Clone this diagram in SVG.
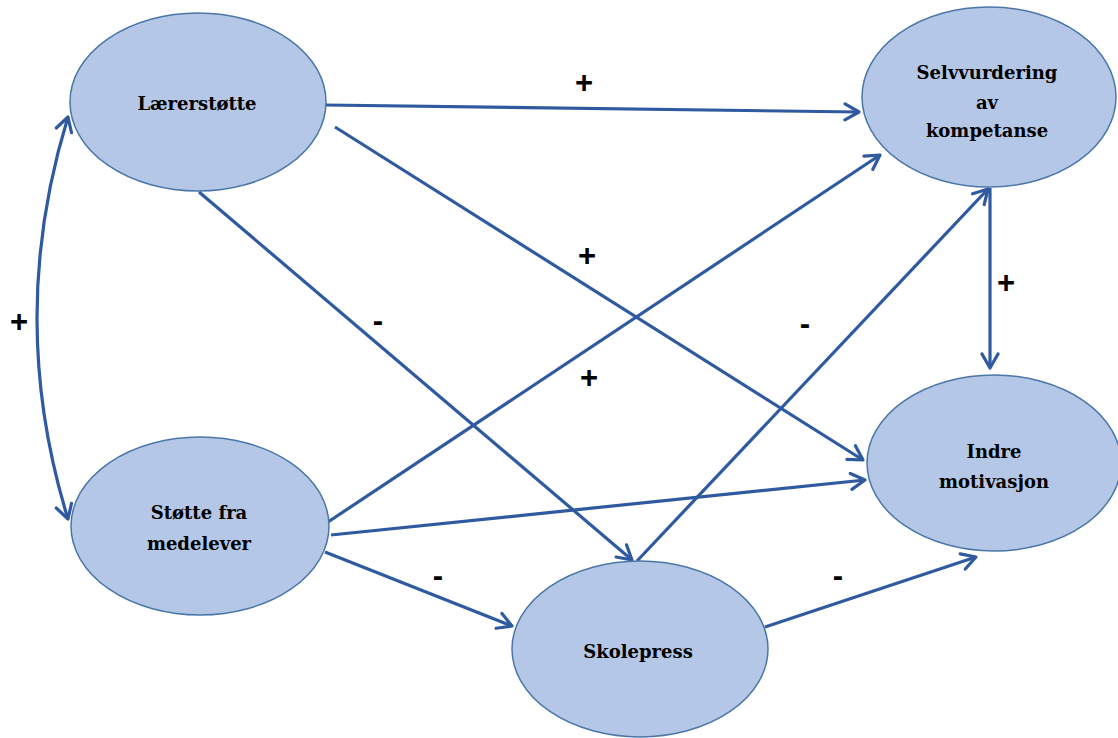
<svg xmlns="http://www.w3.org/2000/svg" width="1118" height="738" viewBox="0 0 1118 738">
<defs>
<marker id="ah" markerUnits="userSpaceOnUse" viewBox="-18 -10 20 20" refX="0" refY="0" markerWidth="20" markerHeight="20" orient="auto-start-reverse">
<path d="M-14,-8 L0,0 L-14,8" fill="none" stroke="#2F5AA0" stroke-width="3.2" stroke-linecap="round" stroke-linejoin="round"/>
</marker>
<style>
.node{fill:#B4C7E7;stroke:#4A76A8;stroke-width:1.5}
.lbl{font-family:"DejaVu Serif",serif;font-weight:bold;font-size:18px;fill:#000;text-anchor:middle}
.conn{fill:none;stroke:#2F5AA0;stroke-width:3.2;marker-end:url(#ah)}
.sign{font-family:"Liberation Sans",Arial,sans-serif;font-weight:bold;font-size:31px;fill:#000;text-anchor:middle}
</style>
</defs>
<rect width="1118" height="738" fill="#fff"/>
<g id="connectors">
<line class="conn" x1="325" y1="105" x2="859" y2="112"/>
<line class="conn" x1="335" y1="127" x2="863" y2="460"/>
<line class="conn" x1="199" y1="192" x2="632" y2="560"/>
<line class="conn" x1="328" y1="522" x2="880" y2="155"/>
<line class="conn" x1="331" y1="535" x2="865" y2="480"/>
<line class="conn" x1="325" y1="552" x2="512" y2="626"/>
<line class="conn" x1="637" y1="561" x2="988" y2="189"/>
<line class="conn" x1="765" y1="627" x2="976" y2="557"/>
<line class="conn" x1="990" y1="188" x2="990" y2="368"/>
<path class="conn" d="M68,117 Q6,318 68,519" style="marker-start:url(#ah)"/>
</g>
<g id="labels">
<text class="sign" x="584" y="93">+</text>
<text class="sign" x="587" y="266">+</text>
<text class="sign" x="378" y="331">-</text>
<text class="sign" x="589" y="388">+</text>
<text class="sign" x="805" y="334">-</text>
<text class="sign" x="1006" y="293">+</text>
<text class="sign" x="19" y="332">+</text>
<text class="sign" x="438" y="586">-</text>
<text class="sign" x="838" y="586">-</text>
</g>
<g id="laererstotte">
<ellipse class="node" cx="198" cy="102" rx="128" ry="89"/>
<text class="lbl" x="197" y="110">Lærerstøtte</text>
</g>
<g id="selvvurdering">
<ellipse class="node" cx="989" cy="97" rx="127" ry="90"/>
<text class="lbl" x="987" y="79">Selvvurdering</text>
<text class="lbl" x="987" y="109">av</text>
<text class="lbl" x="987" y="137">kompetanse</text>
</g>
<g id="indre">
<ellipse class="node" cx="994" cy="463" rx="127" ry="88"/>
<text class="lbl" x="994" y="458">Indre</text>
<text class="lbl" x="994" y="488">motivasjon</text>
</g>
<g id="stotte">
<ellipse class="node" cx="200" cy="526" rx="129" ry="89"/>
<text class="lbl" x="199" y="519">Støtte fra</text>
<text class="lbl" x="199" y="550">medelever</text>
</g>
<g id="skolepress">
<ellipse class="node" cx="640" cy="649" rx="128" ry="88"/>
<text class="lbl" x="638" y="658">Skolepress</text>
</g>
</svg>
